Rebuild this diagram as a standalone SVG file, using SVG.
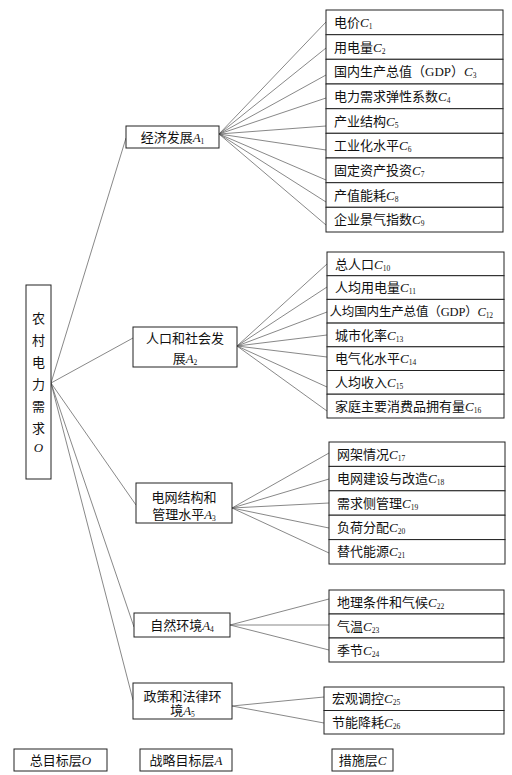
<svg xmlns="http://www.w3.org/2000/svg" width="512" height="775" viewBox="0 0 512 775">
<style>
text{font-family:"Liberation Serif","Noto Sans CJK SC",serif;font-size:13px;fill:#111}
.b{fill:#fff;stroke:#222;stroke-width:1}
.c{fill:none;stroke:#555;stroke-width:0.7}
.i{font-style:italic}
.s{font-size:7.5px}
.m{text-anchor:middle}
</style>
<rect width="512" height="775" fill="#fff"/>
<g id="connectors">
<path class="c" d="M51 383L126 138M51 383L133 338M51 383L136 505M51 383L134 627M51 383L133 700"/>
<path class="c" d="M219 134L326 22M219 134L326 48M219 134L326 75M219 134L326 98M219 134L326 126M219 134L326 150M219 134L326 180M219 134L326 202M219 134L326 225"/>
<path class="c" d="M237 346L327 264M237 346L327 287M237 346L327 312M237 346L327 335M237 346L327 357M237 346L327 387M237 346L327 411"/>
<path class="c" d="M232 508L329 453M232 508L329 479M232 508L329 503M232 508L329 528M232 508L329 553"/>
<path class="c" d="M230 625L329 599M230 625L329 625M230 625L329 650"/>
<path class="c" d="M232 706L324 697M232 706L324 723"/>
</g>
<g id="O">
<rect class="b" x="26" y="285" width="25" height="194"/>
<text class="m" x="38.5" y="323">农</text>
<text class="m" x="38.5" y="345">村</text>
<text class="m" x="38.5" y="367">电</text>
<text class="m" x="38.5" y="389">力</text>
<text class="m" x="38.5" y="411">需</text>
<text class="m" x="38.5" y="433">求</text>
<text class="m i" x="38.5" y="452">O</text>
</g>
<g id="A1">
<rect class="b" x="126" y="126" width="93" height="22"/>
<text class="m" x="172.5" y="141.5">经济发展<tspan class="i">A</tspan><tspan class="s" dy="2">1</tspan></text>
</g>
<g id="A2">
<rect class="b" x="133" y="327" width="104" height="40"/>
<text class="m" x="185" y="342.5">人口和社会发</text>
<text class="m" x="185" y="362.5">展<tspan class="i">A</tspan><tspan class="s" dy="2">2</tspan></text>
</g>
<g id="A3">
<rect class="b" x="136" y="483" width="96" height="40"/>
<text class="m" x="184" y="501.5">电网结构和</text>
<text class="m" x="184" y="518.5">管理水平<tspan class="i">A</tspan><tspan class="s" dy="2">3</tspan></text>
</g>
<g id="A4">
<rect class="b" x="134" y="613" width="96" height="24"/>
<text class="m" x="182" y="629.5">自然环境<tspan class="i">A</tspan><tspan class="s" dy="2">4</tspan></text>
</g>
<g id="A5">
<rect class="b" x="133" y="683" width="99" height="36"/>
<text class="m" x="182.5" y="700.5">政策和法律环</text>
<text class="m" x="182.5" y="714.5">境<tspan class="i">A</tspan><tspan class="s" dy="2">5</tspan></text>
</g>
<g id="C1"><rect class="b" x="326" y="10" width="177" height="24.7"/><text x="334" y="27">电价<tspan class="i">C</tspan><tspan class="s" dy="2">1</tspan></text></g>
<g id="C2"><rect class="b" x="326" y="34.7" width="177" height="24.6"/><text x="334" y="51.5">用电量<tspan class="i">C</tspan><tspan class="s" dy="2">2</tspan></text></g>
<g id="C3"><rect class="b" x="326" y="59.3" width="177" height="24.7"/><text x="334" y="76">国内生产总值（GDP）<tspan class="i">C</tspan><tspan class="s" dy="2">3</tspan></text></g>
<g id="C4"><rect class="b" x="326" y="84" width="177" height="24.7"/><text x="334" y="101">电力需求弹性系数<tspan class="i">C</tspan><tspan class="s" dy="2">4</tspan></text></g>
<g id="C5"><rect class="b" x="326" y="108.7" width="177" height="24.6"/><text x="334" y="125.5">产业结构<tspan class="i">C</tspan><tspan class="s" dy="2">5</tspan></text></g>
<g id="C6"><rect class="b" x="326" y="133.3" width="177" height="24.7"/><text x="334" y="150">工业化水平<tspan class="i">C</tspan><tspan class="s" dy="2">6</tspan></text></g>
<g id="C7"><rect class="b" x="326" y="158" width="177" height="24.7"/><text x="334" y="175">固定资产投资<tspan class="i">C</tspan><tspan class="s" dy="2">7</tspan></text></g>
<g id="C8"><rect class="b" x="326" y="182.7" width="177" height="24.6"/><text x="334" y="199.5">产值能耗<tspan class="i">C</tspan><tspan class="s" dy="2">8</tspan></text></g>
<g id="C9"><rect class="b" x="326" y="207.3" width="177" height="24.7"/><text x="334" y="224">企业景气指数<tspan class="i">C</tspan><tspan class="s" dy="2">9</tspan></text></g>
<g id="C10"><rect class="b" x="327" y="252" width="177" height="23.7"/><text x="335" y="268.5">总人口<tspan class="i">C</tspan><tspan class="s" dy="2">10</tspan></text></g>
<g id="C11"><rect class="b" x="327" y="275.7" width="177" height="23.7"/><text x="335" y="292">人均用电量<tspan class="i">C</tspan><tspan class="s" dy="2">11</tspan></text></g>
<g id="C12"><rect class="b" x="327" y="299.4" width="177" height="23.7"/><text x="329.5" y="316" style="font-size:12.5px;letter-spacing:-0.15px">人均国内生产总值（GDP）<tspan class="i">C</tspan><tspan class="s" dy="2">12</tspan></text></g>
<g id="C13"><rect class="b" x="327" y="323.1" width="177" height="23.7"/><text x="335" y="339.5">城市化率<tspan class="i">C</tspan><tspan class="s" dy="2">13</tspan></text></g>
<g id="C14"><rect class="b" x="327" y="346.8" width="177" height="23.7"/><text x="335" y="363">电气化水平<tspan class="i">C</tspan><tspan class="s" dy="2">14</tspan></text></g>
<g id="C15"><rect class="b" x="327" y="370.5" width="177" height="23.7"/><text x="335" y="387">人均收入<tspan class="i">C</tspan><tspan class="s" dy="2">15</tspan></text></g>
<g id="C16"><rect class="b" x="327" y="394.2" width="177" height="23.8"/><text x="335" y="411">家庭主要消费品拥有量<tspan class="i">C</tspan><tspan class="s" dy="2">16</tspan></text></g>
<g id="C17"><rect class="b" x="329" y="442" width="176" height="24.4"/><text x="337" y="458.5">网架情况<tspan class="i">C</tspan><tspan class="s" dy="2">17</tspan></text></g>
<g id="C18"><rect class="b" x="329" y="466.4" width="176" height="24.4"/><text x="337" y="483">电网建设与改造<tspan class="i">C</tspan><tspan class="s" dy="2">18</tspan></text></g>
<g id="C19"><rect class="b" x="329" y="490.8" width="176" height="24.4"/><text x="337" y="507.5">需求侧管理<tspan class="i">C</tspan><tspan class="s" dy="2">19</tspan></text></g>
<g id="C20"><rect class="b" x="329" y="515.2" width="176" height="24.4"/><text x="337" y="532">负荷分配<tspan class="i">C</tspan><tspan class="s" dy="2">20</tspan></text></g>
<g id="C21"><rect class="b" x="329" y="539.6" width="176" height="24.4"/><text x="337" y="556">替代能源<tspan class="i">C</tspan><tspan class="s" dy="2">21</tspan></text></g>
<g id="C22"><rect class="b" x="329" y="590" width="175" height="24"/><text x="337" y="606.5">地理条件和气候<tspan class="i">C</tspan><tspan class="s" dy="2">22</tspan></text></g>
<g id="C23"><rect class="b" x="329" y="614" width="175" height="24"/><text x="337" y="630.5">气温<tspan class="i">C</tspan><tspan class="s" dy="2">23</tspan></text></g>
<g id="C24"><rect class="b" x="329" y="638" width="175" height="24"/><text x="337" y="654.5">季节<tspan class="i">C</tspan><tspan class="s" dy="2">24</tspan></text></g>
<g id="C25"><rect class="b" x="324" y="687" width="180" height="23.5"/><text x="332" y="703">宏观调控<tspan class="i">C</tspan><tspan class="s" dy="2">25</tspan></text></g>
<g id="C26"><rect class="b" x="324" y="710.5" width="180" height="23.5"/><text x="332" y="727">节能降耗<tspan class="i">C</tspan><tspan class="s" dy="2">26</tspan></text></g>
<g id="legendO"><rect class="b" x="14" y="749" width="93" height="22"/><text class="m" x="60.5" y="764.5">总目标层<tspan class="i">O</tspan></text></g>
<g id="legendA"><rect class="b" x="140" y="749" width="92" height="22"/><text class="m" x="186" y="764.5">战略目标层<tspan class="i">A</tspan></text></g>
<g id="legendC"><rect class="b" x="332" y="749" width="61" height="22"/><text class="m" x="362.5" y="764.5">措施层<tspan class="i">C</tspan></text></g>
</svg>
